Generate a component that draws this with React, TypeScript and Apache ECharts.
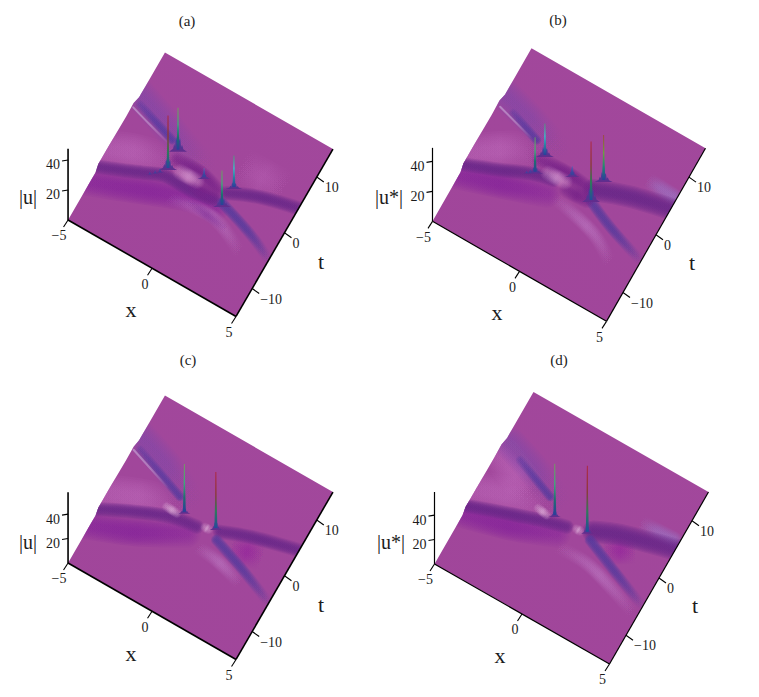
import React, { useEffect, useRef } from "react";
import * as echarts from "echarts";

// ---------- values (x, t, |u|) ----------
const titles = ["(a)", "(b)", "(c)", "(d)"];
const zNames = ["|u|", "|u*|", "|u|", "|u*|"];
const xTicks = [-5, 0, 5];
const tTicks = [-10, 0, 10];
const uTicks = [20, 40];
const xRange = [-5, 5];
const tRange = [-15, 15];
const leftEdge = [[-6.5, 0], [-5.6, 2.5], [-2, 2.5], [3, 2], [5.3, 2.5], [7, 0]];

const ribbonsA: any[] = [
  ["wedge", [[-5.6, -3.4], [-3.99, -1.05], [-2.53, 0.03], [-1.9, 0.3]]],
  ["wedgeSoft", [[1.26, 5.67], [2.6, 5.7], [3.92, 5.77]]],
  ["upper", [[-5.24, 7.58], [-3.53, 5.85], [-2.16, 4.27], [-0.53, 2.59]]],
  ["magenta", [[-5.3, -8.5], [-3.54, -6.54], [-1.84, -4.51], [-0.12, -2.63], [1.23, -1.91]]],
  ["dark", [[-5.2, -5.7], [-3.98, -4.25], [-2.78, -2.72], [-1.81, -1.58], [-0.33, -1.55], [1.05, -0.97]]],
  ["dark", [[1.4, 0.89], [2.98, 2.89], [5.2, 4.5]]],
  ["blueIn", [[-4.76, 6.06], [-2.42, 3.81]]],
  ["blueOut", [[1.44, -0.83], [2.74, -2.02], [3.88, -3.28], [4.85, -4.65]]],
  ["line", [[-5, 5.18], [-3.8, 4.13], [-2.6, 3.15]]],
  ["glow", [[-1.15, -4.4], [1.4, -3.42], [3.54, -6.19]]],
  ["shade", [[-0.2, -3.13], [2.36, -4.09]]],
  ["core", [[-1.68, 1.49], [-0.32, 1.51], [0.88, 0.53]]],
  ["core", [[-0.19, -0.76], [0.74, -0.96]]],
  ["bright", [[-1.24, 0.11], [-0.25, 0.2]]],
];
const spikesA = [[-1.88, -0.28, 35], [-1.9, 2.92, 28], [-0.03, 1.28, 6], [1.49, -1.1, 23], [1.56, 2.24, 21]];
const lumpsA = [[-1.88, -0.28, 13], [-1.9, 2.92, 18], [-0.03, 1.28, 6], [1.49, -1.1, 11], [1.56, 2.24, 8], [-2.56, -2.34, 2], [-2.35, -1.82, 2.5], [-2.16, -1.3, 3]];
const toneA = ["red", "green", "blue", "green", "teal"];

const ribbonsB: any[] = [
  ["wedge", [[-5.2, -3.6], [-3.27, 0.36], [-2.2, 1.1]]],
  ["glow", [[-0.39, -2.73], [2.25, -4.51], [3.71, -7.17]]],
  ["bluish", [[3.24, 6.45], [4.8, 6.27]]],
  ["upper", [[-5.1, 7.01], [-3.06, 5.34], [-1.63, 3.8]]],
  ["magenta", [[-5.2, -7.2], [-2.36, -4.43], [-0.75, -2.78]]],
  ["dark", [[-5.2, -5.4], [-3.35, -3.24], [-1.97, -1.42], [-0.8, -0.55]]],
  ["wide", [[1.18, 1.14], [2.93, 3.02], [5.2, 4.6]]],
  ["blueIn", [[-4.18, 5.15], [-2.51, 3.42]]],
  ["blueOut", [[1.29, -0.41], [2.81, -2.4], [4.82, -4.4]]],
  ["line", [[-4.91, 5.02], [-2.88, 3.35]]],
  ["core", [[-1.86, 1.06], [-0.38, 1.33], [1.04, 0.89]]],
  ["core", [[0.03, -0.85], [1.15, -0.65]]],
  ["bright", [[-1.18, -0.05], [-0.25, 0.1]]],
];
const spikesB = [[-1.79, -0.84, 23], [-1.78, 2.09, 21], [-0.1, 1.53, 6], [1.33, -0.33, 39], [1.38, 3.23, 30]];
const lumpsB = [[-1.79, -0.84, 8], [-1.78, 2.09, 12], [-0.1, 1.53, 7], [1.33, -0.33, 17], [1.38, 3.23, 12], [-2.15, -1.46, 2], [-2, -1.2, 3]];
const toneB = ["green", "teal", "blue", "red", "redGreen"];

const ribbonsC: any[] = [
  ["wedge", [[-5.4, -3.2], [-2.97, -0.18], [-1.63, 0.04]]],
  ["upper", [[-5.05, 7.58], [-3.08, 5.6], [-1.42, 3.09]]],
  ["magenta", [[-5.3, -8.6], [-2.89, -5.74], [-0.47, -1.84]]],
  ["patch", [[1.82, -0.32], [3.57, 0.9]]],
  ["dark", [[-5.2, -5.7], [-3.41, -3.04], [-1.64, -0.89], [-0.19, -0.18]]],
  ["dark", [[0.98, 0.93], [2.45, 2.57], [5.2, 4.7]]],
  ["blueIn", [[-4.7, 5.79], [-1.72, 2.57]]],
  ["blueOut", [[1.04, -0.44], [2.79, -2.24], [4.84, -4.67]]],
  ["line", [[-5, 5.28], [-2.57, 2.9]]],
  ["glow", [[0.33, -2.88], [1.56, -3.13], [3.22, -4.48]]],
  ["spot", [[-2.05, 0.2], [-1.43, 0.08]]],
  ["spot", [[0.2, 0.37], [0.4, 0.37]]],
];
const spikesC = [[-1.13, 0.88, 39], [0.7, 1.12, 46]];
const lumpsC = [[-1.13, 0.88, 9], [0.7, 1.12, 12]];
const toneC = ["green", "red"];

const ribbonsD: any[] = [
  ["wedge", [[-5.4, -2.7], [-3.28, -0.26], [-1.57, -0.19]]],
  ["wedge", [[-4.7, 4.24], [-2.64, 1.45]]],
  ["glow", [[-0.18, -3.56], [1.52, -3.49], [3.34, -5], [4.77, -6.56]]],
  ["bluish", [[2.82, 5.76], [4.68, 6.06]]],
  ["upper", [[-4.74, 6.51], [-2.85, 4.57], [-1.56, 2.74]]],
  ["magenta", [[-5.2, -6.4], [-2.53, -4.2], [-0.51, -1.81]]],
  ["patch", [[1.91, -0.5], [3.34, 2.0]]],
  ["dark", [[-5.2, -5.1], [-3.15, -2.93], [-1.55, -1.31], [-0.24, -0.19]]],
  ["wide", [[1.03, 1.15], [2.25, 2.72], [5.2, 5.1]]],
  ["blueIn", [[-3.89, 5.07], [-1.7, 2.5]]],
  ["blueOut", [[1.1, -0.19], [2.84, -2.37], [4.8, -4.75]]],
  ["spot", [[-1.92, 0.1], [-1.39, -0.15]]],
  ["spot", [[0.24, 0.25], [0.44, 0.25]]],
];
const spikesD = [[-1.04, 0.45, 42], [0.77, 0.7, 54]];
const lumpsD = [[-1.04, 0.45, 9], [0.77, 0.7, 12]];
const toneD = ["green", "red"];

// ---------- styles and layout ----------
const SERIF = '"Liberation Serif"';
const SURFACE = "#A2489C";
const INK = "#1c1c1c";
// fade: colour strength at the start, middle and end of a ribbon
const RIBBON: any = {
  wedge: { rgb: "186,100,182", w: 24, a: 0.6, fade: [0.7, 1, 0.05] },
  wedgeSoft: { rgb: "180,92,176", w: 24, a: 0.5, fade: [0, 1, 0] },
  upper: { rgb: "128,70,168", w: 20, a: 0.52, fade: [1, 0.9, 0.1] },
  magenta: { rgb: "134,36,152", w: 18, a: 0.85, fade: [0.7, 1, 0.5] },
  dark: { rgb: "104,38,136", w: 9, a: 1, fade: [0.85, 1, 0.8] },
  wide: { rgb: "104,38,136", w: 14, a: 1, fade: [1, 1, 0.9] },
  blueIn: { rgb: "88,58,158", w: 6, a: 0.9, fade: [0.35, 0.8, 1] },
  blueOut: { rgb: "88,58,158", w: 7, a: 1, fade: [1, 0.9, 0.1] },
  line: { rgb: "194,154,207", w: 2, a: 0.75, fade: [1, 0.8, 0.1] },
  glow: { rgb: "184,112,188", w: 9, a: 0.65, fade: [0, 1, 0] },
  shade: { rgb: "134,53,154", w: 7, a: 0.6, fade: [0, 1, 0] },
  core: { rgb: "118,34,136", w: 10, a: 1, fade: [0.5, 1, 0.6] },
  bright: { rgb: "208,145,204", w: 10, a: 0.75, fade: [0.4, 1, 0.4] },
  spot: { rgb: "216,166,212", w: 6, a: 0.8, fade: [0.4, 1, 0.4] },
  bluish: { rgb: "154,112,192", w: 11, a: 0.65, fade: [0, 0.8, 1] },
  patch: { rgb: "147,32,158", w: 18, a: 0.5, fade: [0, 1, 0] },
};
const TONE: any = {
  red: ["#B0202C", "#8A3A3A", "#2E7A5A", "#234C9A"],
  green: ["#6FA35C", "#3DA87A", "#1F6E70", "#2A3F9A"],
  teal: ["#4E9A7A", "#38C0C8", "#2A7EA0", "#2A3F9A"],
  blue: ["#7A58B0", "#4E50A8", "#3C459E", "#3C3F98"],
  redGreen: ["#9A4A30", "#6CA040", "#1E8A70", "#2A3F9A"],
};
const panels = [
  { c: [200.5, 184.5], ex: [16.8, 9.65], et: [3.23, -5.58], us: 1.5, uTop: 47.5, title: [187, 21], zName: [28, 197], x: [131, 309], t: [321, 261], lw: 1.6, ribbons: ribbonsA, spikes: spikesA, lumps: lumpsA, tones: toneA, lumpW: 9 },
  { c: [569, 184.8], ex: [17.4, 10], et: [3.3, -5.77], us: 1.5, uTop: 49, title: [558, 20], zName: [389, 197], x: [497, 312], t: [692, 262], lw: 1.2, ribbons: ribbonsB, spikes: spikesB, lumps: lumpsB, tones: toneB, lumpW: 9 },
  { c: [200.5, 527.5], ex: [16.8, 9.65], et: [3.23, -5.58], us: 1.22, uTop: 58, title: [188, 360], zName: [28, 542], x: [131, 653], t: [321, 604], lw: 1.6, ribbons: ribbonsC, spikes: spikesC, lumps: lumpsC, tones: toneC, lumpW: 6 },
  { c: [571.5, 528], ex: [17.5, 10], et: [3.3, -5.73], us: 1.22, uTop: 59, title: [559, 360], zName: [391, 542], x: [500, 655], t: [695, 605], lw: 1.2, ribbons: ribbonsD, spikes: spikesD, lumps: lumpsD, tones: toneD, lumpW: 6 },
];
const LAYERS = [1.6, 1.42, 1.25, 1.1, 0.95, 0.8, 0.65, 0.5, 0.35];
const LUMP = [[-1, 0], [-0.55, 0.12], [-0.42, 0.3], [-0.33, 0.2], [-0.22, 0.55], [-0.14, 0.42], [-0.08, 0.85], [0, 1], [0.08, 0.8], [0.14, 0.4], [0.24, 0.5], [0.34, 0.18], [0.45, 0.26], [0.6, 0.1], [1, 0]];

function buildPanelItems(p: any, i: number) {
  const raw = (x: number, t: number, u = 0) => [
    p.c[0] + x * p.ex[0] + t * p.et[0],
    p.c[1] + x * p.ex[1] + t * p.et[1] - u * p.us,
  ];
  const outline = (api: any) => {
    const pts = [
      raw(xRange[0], tRange[0]),
      ...leftEdge.map((e) => raw(xRange[0], e[0], e[1])),
      raw(xRange[0], tRange[1]),
      raw(xRange[1], tRange[1]),
      raw(xRange[1], tRange[0]),
    ];
    return pts.map((q) => api.coord(q));
  };
  const txt = (api: any, pos: number[], text: string, size: number, align = "center") => {
    const c = api.coord(pos);
    return {
      type: "text",
      style: { x: c[0], y: c[1], text, fill: INK, font: `${size}px ${SERIF}`, align, verticalAlign: "middle" },
    };
  };
  const seg = (api: any, a: number[], b: number[], w: number) => ({
    type: "line",
    shape: { x1: api.coord(a)[0], y1: api.coord(a)[1], x2: api.coord(b)[0], y2: api.coord(b)[1] },
    style: { stroke: "#000", lineWidth: w },
  });
  const items: any[] = [];
  items.push((api: any) => ({
    type: "polygon",
    shape: { points: outline(api) },
    style: {
      fill: new echarts.graphic.LinearGradient(0, 1, 1, 0, [
        { offset: 0, color: "#A0459A" },
        { offset: 1, color: SURFACE },
      ]),
    },
  }));
  p.ribbons.forEach((r: any) => {
    items.push((api: any) => {
      const s = RIBBON[r[0]];
      const points = r[1].map((q: number[]) => api.coord(raw(q[0], q[1])));
      const thin = s.w < 3;
      const layers = thin ? [1] : LAYERS;
      const unit = thin ? s.a : (s.a * 1.9) / LAYERS.length;
      const a = points[0];
      const b = points[points.length - 1];
      const stroke = new echarts.graphic.LinearGradient(
        a[0], a[1], b[0], b[1],
        [
          { offset: 0, color: `rgba(${s.rgb},${s.fade[0] * unit})` },
          { offset: 0.5, color: `rgba(${s.rgb},${s.fade[1] * unit})` },
          { offset: 1, color: `rgba(${s.rgb},${s.fade[2] * unit})` },
        ],
        true
      );
      return {
        type: "group",
        clipPath: { type: "polygon", shape: { points: outline(api) } },
        children: layers.map((k) => ({
          type: "polyline",
          shape: { points, smooth: 0.35 },
          style: { fill: "none", stroke, lineWidth: s.w * k, lineCap: "round", lineJoin: "round" },
        })),
      };
    });
  });
  p.lumps.forEach((l: number[]) => {
    items.push((api: any) => {
      const base = raw(l[0], l[1]);
      const h = l[2] * p.us;
      const wob = p.lumpW * Math.min(1, 0.25 + l[2] / 12);
      return {
        type: "polygon",
        shape: { points: LUMP.map((q) => api.coord([base[0] + q[0] * wob, base[1] - q[1] * h + 2])) },
        style: {
          fill: new echarts.graphic.LinearGradient(0, 0, 0, 1, [
            { offset: 0, color: "#3A4CAA" },
            { offset: 0.6, color: "#3F3F9C" },
            { offset: 1, color: "#642C8C" },
          ]),
        },
      };
    });
  });
  p.spikes.forEach((sp: number[], j: number) => {
    items.push((api: any) => {
      const base = raw(sp[0], sp[1]);
      const tip = raw(sp[0], sp[1], sp[2]);
      const cols = TONE[p.tones[j]];
      return {
        type: "polygon",
        shape: {
          points: [
            [base[0] - 1.5, base[1]],
            [base[0] - 0.8, (base[1] + tip[1]) / 2],
            [tip[0] - 0.4, tip[1]],
            [tip[0] + 0.4, tip[1]],
            [base[0] + 0.8, (base[1] + tip[1]) / 2],
            [base[0] + 1.5, base[1]],
          ].map((q) => api.coord(q)),
        },
        style: {
          fill: new echarts.graphic.LinearGradient(0, 0, 0, 1, [
            { offset: 0, color: cols[0] },
            { offset: 0.4, color: cols[1] },
            { offset: 0.7, color: cols[2] },
            { offset: 1, color: cols[3] },
          ]),
        },
      };
    });
  });
  // axes
  items.push((api: any) => seg(api, raw(xRange[0], tRange[0]), raw(xRange[1], tRange[0]), p.lw));
  items.push((api: any) => seg(api, raw(xRange[1], tRange[0]), raw(xRange[1], tRange[1]), p.lw));
  items.push((api: any) => seg(api, raw(xRange[0], tRange[0]), raw(xRange[0], tRange[0], p.uTop), p.lw));
  xTicks.forEach((v) => {
    const e = raw(v, tRange[0]);
    items.push((api: any) => seg(api, e, [e[0] - 4.5, e[1] + 7], 1.1));
    items.push((api: any) => txt(api, [e[0] - (v < 0 ? 9 : 7), e[1] + 16], String(v).replace("-", "\u2212"), 14));
  });
  tTicks.forEach((v) => {
    const e = raw(xRange[1], v);
    items.push((api: any) => seg(api, e, [e[0] + 7, e[1] + 5], 1.1));
    items.push((api: any) => txt(api, [e[0] + 8, e[1] + 10.5], String(v).replace("-", "\u2212"), 14, "left"));
  });
  uTicks.forEach((v) => {
    const e = raw(xRange[0], tRange[0], v);
    items.push((api: any) => seg(api, e, [e[0] - 6, e[1] + 1], 1.1));
    items.push((api: any) => txt(api, [e[0] - 8, e[1] + 5], String(v), 14, "right"));
  });
  items.push((api: any) => txt(api, p.title, titles[i], 15));
  items.push((api: any) => txt(api, p.zName, zNames[i], 20));
  items.push((api: any) => txt(api, p.x, "x", 22));
  items.push((api: any) => txt(api, p.t, "t", 22));
  return items;
}

export default function App() {
  const ref = useRef<HTMLDivElement>(null);
  useEffect(() => {
    document.body.style.margin = "0";
    document.body.style.background = "#fff";
    const chart = echarts.init(ref.current!, undefined, { renderer: "svg" });
    chart.setOption({
      animation: false,
      backgroundColor: "#fff",
      grid: { left: 0, right: 0, top: 0, bottom: 0 },
      xAxis: { type: "value", min: 0, max: 759, show: false },
      yAxis: { type: "value", min: 0, max: 697, inverse: true, show: false },
      series: panels.map((p, i) => {
        const items = buildPanelItems(p, i);
        return {
          type: "custom",
          silent: true,
          clip: false,
          data: items.map((_, k) => [k, k]),
          renderItem: (params: any, api: any) => items[params.dataIndex](api),
        };
      }),
    });
    return () => chart.dispose();
  }, []);
  return <div ref={ref} style={{ width: 759, height: 697 }} />;
}
